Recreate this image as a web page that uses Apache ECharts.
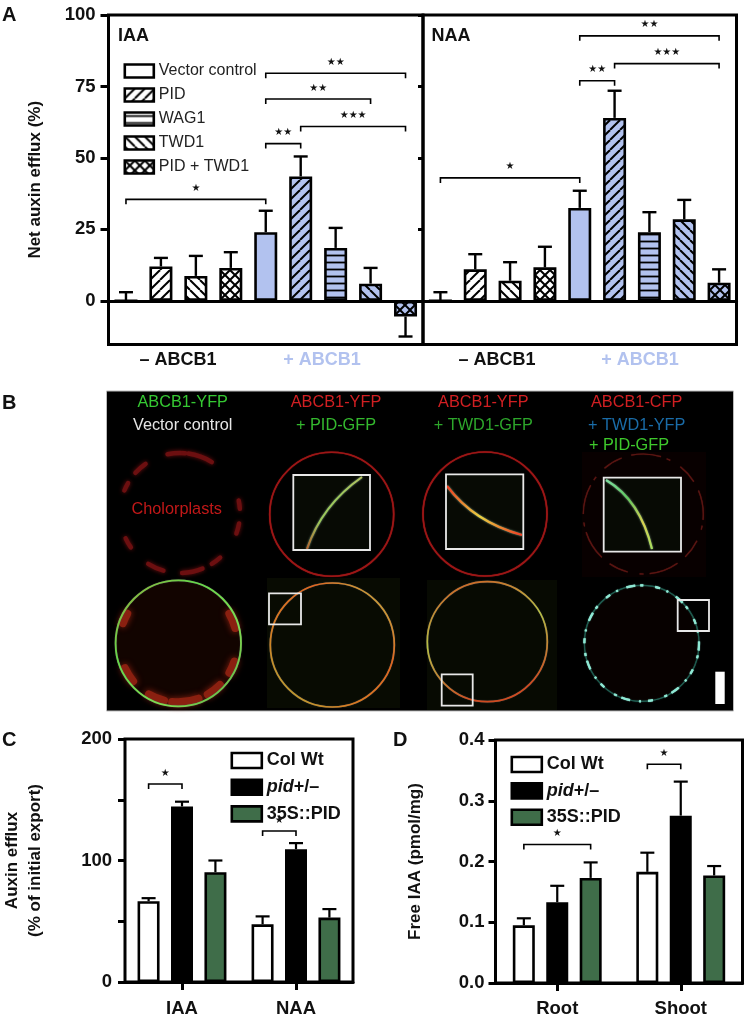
<!DOCTYPE html>
<html><head><meta charset="utf-8">
<style>html,body{margin:0;padding:0;background:#fff}#c{width:745px;height:1019px}</style>
<script src="https://cdn.jsdelivr.net/npm/echarts@6/dist/echarts.min.js"></script>
</head><body><div id="c"></div>
<script>
// ---------- Panel A data ----------
const aCategories = ['- Vector','- PID','- TWD1','- PID + TWD1','+ Vector','+ PID','+ WAG1','+ TWD1','+ PID + TWD1'];
const aTicks = [0,25,50,75,100];
const iaaVector = [0,null,null,null,24,null,null,null,null];
const iaaPid    = [null,12,null,null,null,43.5,null,null,null];
const iaaWag    = [null,null,null,null,null,null,18.5,null,null];
const iaaTwd    = [null,null,8.7,null,null,null,null,6,null];
const iaaBoth   = [null,null,null,11.5,null,null,null,null,-5.5];
const iaaError  = [3,15,15.7,17,31.5,50.5,25.5,11.5,-12.5];
const naaVector = [0,null,null,null,32.5,null,null,null,null];
const naaPid    = [null,11,null,null,null,64,null,null,null];
const naaWag    = [null,null,null,null,null,null,24,null,null];
const naaTwd    = [null,null,7,null,null,null,null,28.5,null];
const naaBoth   = [null,null,null,11.7,null,null,null,null,6.3];
const naaError  = [3,16.3,13.5,18.9,38.5,73.5,31,35.3,11];
// brackets: from category, to category, height, number of stars
const iaaBrackets = [[0,4,35.5,1],[4,8,79.6,2],[4,7,70.6,2],[5,8,61,3],[4,5,55,2]];
const naaBrackets = [[0,4,43,1],[4,8,92.7,2],[5,8,83,3],[4,5,77,2]];
const aLegend = ['Vector control','PID','WAG1','TWD1','PID + TWD1'];
// ---------- Panel C data ----------
const cCategories = ['IAA','NAA'];
const cTicks = [0,50,100,150,200];
const cLabels = [0,100,200];
const cCol = [66.5,47.5];   const cColErr = [69,54];
const cPid = [144.5,109.3]; const cPidErr = [148.4,114.3];
const c35S = [90.4,53];     const c35SErr = [100,60];
const cBrackets = [[0,-1,0,163,1],[1,-1,0,124.3,1]];
// ---------- Panel D data ----------
const dCategories = ['Root','Shoot'];
const dTicks = [0,0.1,0.2,0.3,0.4];
const dCol = [0.095,0.183];  const dColErr = [0.1065,0.2145];
const dPid = [0.133,0.2755]; const dPidErr = [0.16,0.3315];
const d35S = [0.173,0.177];  const d35SErr = [0.1985,0.1925];
const dBrackets = [[0,-1,1,0.228,1],[1,-1,0,0.36,1]];
const wtLegend = ['Col Wt','pid+/–','35S::PID'];

// ---------- styles ----------
const FONT = '"Liberation Sans", Arial, sans-serif';
const BLUE = '#b2c2ef', GREEN = '#3f6d49';
function hatch(kind, bg){
  const s = kind==='h' ? 7 : (kind==='x' ? 10 : 10);
  const c = document.createElement('canvas'); c.width = s; c.height = s;
  const g = c.getContext('2d');
  g.fillStyle = bg; g.fillRect(0,0,s,s);
  g.strokeStyle = '#000'; g.lineWidth = kind==='h' ? 1.8 : 2;
  const fwd = ()=>{ for(const o of [-s,0,s]){ g.beginPath(); g.moveTo(o,s); g.lineTo(o+s,0); g.stroke(); } };
  const back = ()=>{ for(const o of [-s,0,s]){ g.beginPath(); g.moveTo(o,0); g.lineTo(o+s,s); g.stroke(); } };
  if(kind==='/') fwd();
  if(kind==='\\') back();
  if(kind==='x'){ fwd(); back(); }
  if(kind==='h'){ g.beginPath(); g.moveTo(0,3.5); g.lineTo(s,3.5); g.stroke(); }
  return {image:c, repeat:'repeat'};
}
const KINDS = [null,'/','h','\\','x'];
function fill(i,bg){ return KINDS[i] ? hatch(KINDS[i],bg) : bg; }

function errRender(half){ return function(p,api){
  const base = api.value(1), top = api.value(2);
  const a = api.coord([api.value(0),base]), b = api.coord([api.value(0),top]);
  const x = a[0];
  return {type:'group',children:[
    {type:'line',shape:{x1:x,y1:a[1],x2:x,y2:b[1]},style:{stroke:'#000',lineWidth:2.4}},
    {type:'line',shape:{x1:x-half,y1:b[1],x2:x+half,y2:b[1]},style:{stroke:'#000',lineWidth:2.4}}
  ]};
};}
function bracketShape(x0,x1,y,n){
  return {type:'group',children:[
    {type:'polyline',shape:{points:[[x0,y+5],[x0,y],[x1,y],[x1,y+5]]},style:{stroke:'#000',lineWidth:1.6,fill:null}},
    {type:'text',style:{text:'★'.repeat(n),x:(x0+x1)/2,y:y-11,textAlign:'center',textVerticalAlign:'middle',fill:'#111',font:'10px "DejaVu Sans"'}}
  ]};
}
function aBracket(p,api){
  const a = api.coord([api.value(0),api.value(2)]), b = api.coord([api.value(1),api.value(2)]);
  return bracketShape(a[0],b[0],a[1],api.value(3));
}
const STEP = 33.4;
function gBracket(p,api){
  const a = api.coord([api.value(0),api.value(3)]);
  return bracketShape(a[0]+api.value(1)*STEP,a[0]+api.value(2)*STEP,a[1],api.value(4));
}
function gErr(p,api){
  const a = api.coord([api.value(0),api.value(2)]), b = api.coord([api.value(0),api.value(3)]);
  const x = a[0]+api.value(1)*STEP;
  return {type:'group',children:[
    {type:'line',shape:{x1:x,y1:a[1],x2:x,y2:b[1]},style:{stroke:'#000',lineWidth:2.2}},
    {type:'line',shape:{x1:x-7,y1:b[1],x2:x+7,y2:b[1]},style:{stroke:'#000',lineWidth:2.2}}
  ]};
}

// ---------- Panel A series ----------
function aBars(arrays, gridIdx, stack){
  return arrays.map((arr,k)=>({
    type:'bar', name:aLegend[k], xAxisIndex:gridIdx, yAxisIndex:gridIdx, stack:stack, barWidth:23,
    itemStyle:{color:fill(k,'#fff'),borderColor:'#000',borderWidth:2.6},
    data:arr.map((v,i)=> v==null ? null : (i>=4 ? {value:v,itemStyle:{color:fill(k,BLUE)}} : v)),
    emphasis:{disabled:true}
  }));
}
function aErrors(arrays, err, gridIdx){
  const bar = err.map((_,i)=>{ for(const a of arrays){ if(a[i]!=null) return a[i]; } return 0; });
  return {type:'custom',xAxisIndex:gridIdx,yAxisIndex:gridIdx,z:1,renderItem:errRender(7),encode:{x:0,y:2},
    data:err.map((e,i)=>[i,bar[i],e])};
}
function brackets(data,gridIdx,fn){
  return {type:'custom',xAxisIndex:gridIdx,yAxisIndex:gridIdx,z:4,clip:false,renderItem:fn,data:data,silent:true,
    encode:{x:0}};
}
function gBars(names,vals,errs,gridIdx){
  const fills = ['#fff','#000',GREEN];
  const out = names.map((n,k)=>({
    type:'bar',name:n,xAxisIndex:gridIdx,yAxisIndex:gridIdx,barWidth:22,barGap:'52%',
    itemStyle:{color:fills[k],borderColor:'#000',borderWidth:2.6},data:vals[k],emphasis:{disabled:true}
  }));
  const ed = [];
  errs.forEach((e,k)=>e.forEach((v,i)=>ed.push([i,k-1,vals[k][i],v])));
  out.unshift({type:'custom',xAxisIndex:gridIdx,yAxisIndex:gridIdx,z:1,renderItem:gErr,data:ed,encode:{x:0}});
  return out;
}
const numLabel = {fontFamily:FONT,fontWeight:'bold',fontSize:18.5,color:'#111'};
const nameText = {fontFamily:FONT,fontWeight:'bold',fontSize:17,color:'#111'};
const thickTick = (len)=>({show:true,length:len,lineStyle:{width:3,color:'#000'}});
const frame = {show:true,borderColor:'#000',borderWidth:3,backgroundColor:'transparent'};

// ---------- Panel B (micrographs) ----------
function text(t,x,y,color,size,weight,align){
  return {type:'text',silent:true,z:30,x:x,y:y,style:{text:t,fill:color,textAlign:align||'center',textVerticalAlign:'middle',
    font:(weight||'normal')+' '+size+'px '+FONT}};
}
function grad(stops,x,y,x2,y2){
  return {type:'linear',x:x,y:y,x2:x2,y2:y2,colorStops:stops.map((c,i)=>({offset:i/(stops.length-1),color:c}))};
}
function ring(cx,cy,rx,ry,stroke,w,dash,blur){
  return {type:'ellipse',silent:true,z:12,shape:{cx:cx,cy:cy,rx:rx,ry:ry},
    style:{fill:null,stroke:stroke,lineWidth:w,lineDash:dash||null,shadowBlur:blur||1,shadowColor:typeof stroke==='string'?stroke:'#555'}};
}
function box(x,y,w,h){
  return {type:'rect',silent:true,z:16,shape:{x:x,y:y,width:w,height:h},style:{fill:null,stroke:'#e8e8e8',lineWidth:1.8}};
}
function inset(x,y,w,h){
  return {type:'rect',silent:true,z:14,shape:{x:x,y:y,width:w,height:h},style:{fill:'#070a04'}};
}
function curve(x1,y1,cx,cy,x2,y2,stroke,w){
  return {type:'bezierCurve',silent:true,z:15,shape:{x1:x1,y1:y1,cpx1:cx,cpy1:cy,x2:x2,y2:y2},
    style:{fill:null,stroke:stroke,lineWidth:w,shadowBlur:2,shadowColor:'#8a8'}};
}
function patch(cx,cy,r,a0,a1,color,w,blur){
  const d = Math.PI/180;
  return {type:'arc',silent:true,z:12,shape:{cx:cx,cy:cy,r:r,startAngle:a0*d,endAngle:a1*d,clockwise:true},
    style:{fill:null,stroke:color,lineWidth:w,lineCap:'round',shadowBlur:blur||3,shadowColor:color}};
}
const chloroTop = [[-102,-85],[-82,-58],[-138,-125],[-158,-150],[-12,-4],[10,20],[145,155],[106,122],[68,88],[48,58]];
const chloroLow = [[-30,-15],[-160,-150],[18,30],[140,155],[104,120],[70,96],[45,60]];
const B = [
  {type:'rect',silent:true,z:10,shape:{x:106.5,y:391,width:627,height:320},style:{fill:'#000',stroke:'#bbb',lineWidth:1}},
  {type:'rect',silent:true,z:11,shape:{x:267,y:578,width:133,height:130},style:{fill:'#080b02'}},
  {type:'rect',silent:true,z:11,shape:{x:427,y:580,width:130,height:130},style:{fill:'#070a02'}},
  {type:'ellipse',silent:true,z:11,shape:{cx:178.3,cy:643.3,rx:62,ry:62},style:{fill:'#120400'}},
  {type:'ellipse',silent:true,z:11,shape:{cx:641.7,cy:643.3,rx:57,ry:58},style:{fill:'#070100'}},
  {type:'rect',silent:true,z:11,shape:{x:582,y:452,width:124,height:125},style:{fill:'#080000'}},
  // top row
  ...chloroTop.map(a=>patch(180,513,60,a[0],a[1],'#6c0f10',4.5,4)),
  ring(331.7,514.3,62,62,'#9c1616',1.6),
  ring(485,514,62,62,'#9c1616',1.6),
  ring(643.3,514,60,60,'#5a1512',1.2,[30,6,4,12,20,10]),
  // bottom row
  ...chloroLow.map(a=>patch(178.3,643.3,59,a[0],a[1],'#8a2010',8,6)),
  ring(178.3,643.3,62.7,63,grad(['#9aa83a','#66d84a','#7fdc50','#5fb045'],0,0,1,1),1.8),
  ring(332.3,645,62,62,grad(['#b7c44a','#e0661f','#d87a20','#a9b03a'],1,0,0,1),1.7),
  ring(487.3,641.7,60,60,grad(['#d2501e','#b6c045','#cf4a1f'],0,0,.3,1),1.7),
  ring(641.7,643.3,57.3,58,'#1f5a4e',1.2),
  ring(641.7,643.3,57.3,58,'#8fe8d4',2.2,[5,7,2,9,9,5,3,12]),
  // insets
  inset(293.3,475,76.7,75), inset(446,474.3,77.3,74.7), inset(603.7,477.7,77.3,74),
  curve(307,549,322,505,362,477,grad(['#b8542a','#9cc85a','#9cc85a','#b5c060'],0,1,1,0),2),
  curve(447,486,474,522,522,535,grad(['#f03020','#e8d040','#f03020'],0,0,1,1),2.2),
  curve(606,480,640,500,652,549,grad(['#7fe0a8','#60c860','#d8d050','#a0e060'],0,0,1,1),2.2),
  box(293.3,475,76.7,75), box(446,474.3,77.3,74.7), box(603.7,477.7,77.3,74),
  box(269,593.3,32,31), box(441.7,674.3,31,31.4), box(677.7,600,31.3,31),
  {type:'rect',silent:true,z:16,shape:{x:715.3,y:671.7,width:9.4,height:32.3},style:{fill:'#fff'}},
  text('ABCB1-YFP',182.7,402.7,'#35c832',16.3),
  text('Vector control',182.7,425.7,'#e6e6e6',16.3),
  text('ABCB1-YFP',336,402.7,'#d11f22',16.3),
  text('+ PID-GFP',336,425.7,'#34b92e',16.3),
  text('ABCB1-YFP',483.3,402.7,'#d11f22',16.3),
  text('+ TWD1-GFP',483.3,425.7,'#2da62b',16.3),
  text('ABCB1-CFP',636.7,402.7,'#d11f22',16.3),
  text('+ TWD1-YFP',636.7,425.7,'#1a6ca8',16.3),
  text('+ PID-GFP',629,446,'#3ec92c',16.3),
  text('Cholorplasts',176.7,510,'#c21818',16.3),
];
const labels = [
  text('A',2,15,'#111',20,'bold','left'), text('B',2,403,'#111',20,'bold','left'),
  text('C',2,740,'#111',20,'bold','left'), text('D',393,740,'#111',20,'bold','left'),
  text('IAA',118,36,'#111',18,'bold','left'), text('NAA',431.5,36,'#111',18,'bold','left'),
  text('– ABCB1',178,360.5,'#111',18,'bold'), text('+ ABCB1',322,360.5,BLUE,18,'bold'),
  text('– ABCB1',497,360.5,'#111',18,'bold'), text('+ ABCB1',640,360.5,BLUE,18,'bold'),
];

// ---------- Option ----------
const iaaAll = [iaaVector,iaaPid,iaaWag,iaaTwd,iaaBoth];
const naaAll = [naaVector,naaPid,naaWag,naaTwd,naaBoth];
const legendBase = {orient:'vertical',selectedMode:false,icon:'rect',
  itemStyle:{borderWidth:2.6,borderColor:'#000'},inactiveColor:'#000'};
const wtText = {fontFamily:FONT,fontWeight:'bold',fontSize:18,color:'#111',lineHeight:16,
  rich:{i:{fontFamily:FONT,fontWeight:'bold',fontStyle:'italic',fontSize:18,color:'#111',lineHeight:16}}};
const wtFormat = n=> n==='pid+/–' ? '{i|pid}+/–' : n;

const option = {
  animation:false,
  backgroundColor:'#fff',
  textStyle:{fontFamily:FONT},
  grid:[
    Object.assign({left:108.5,top:15,width:314.5,height:329.5},frame),
    Object.assign({left:423,top:15,width:313.5,height:329.5},frame),
    Object.assign({left:108,top:739,width:245,height:243},frame),
    Object.assign({left:495.5,top:740,width:247,height:243},frame)
  ],
  xAxis:[
    {gridIndex:0,type:'category',data:aCategories,axisLine:{onZero:true,lineStyle:{width:3,color:'#000'}},axisTick:{show:false},axisLabel:{show:false}},
    {gridIndex:1,type:'category',data:aCategories,axisLine:{onZero:true,lineStyle:{width:3,color:'#000'}},axisTick:{show:false},axisLabel:{show:false}},
    {gridIndex:2,type:'category',data:cCategories,axisLine:{lineStyle:{width:3,color:'#000'}},axisTick:Object.assign(thickTick(8),{alignWithLabel:true}),axisLabel:Object.assign({},numLabel,{margin:17})},
    {gridIndex:3,type:'category',data:dCategories,axisLine:{lineStyle:{width:3,color:'#000'}},axisTick:Object.assign(thickTick(8),{alignWithLabel:true}),axisLabel:Object.assign({},numLabel,{margin:16})}
  ],
  yAxis:[
    {gridIndex:0,type:'value',min:-15.3,max:100,splitLine:{show:false},axisLine:{show:false},
      axisTick:Object.assign(thickTick(8),{customValues:aTicks}),
      axisLabel:Object.assign({},numLabel,{customValues:aTicks,margin:13}),
      name:'Net auxin efflux (%)',nameLocation:'middle',nameGap:65,nameTextStyle:nameText},
    {gridIndex:1,type:'value',min:-15.3,max:100,splitLine:{show:false},axisLine:{show:false},
      axisTick:Object.assign(thickTick(5),{customValues:aTicks}),axisLabel:{show:false}},
    {gridIndex:2,type:'value',min:0,max:200,splitLine:{show:false},axisLine:{show:false},
      axisTick:Object.assign(thickTick(7),{customValues:cTicks}),
      axisLabel:Object.assign({},numLabel,{customValues:cLabels,margin:13}),
      name:'Auxin efflux\n(% of initial export)',nameLocation:'middle',nameGap:78,nameTextStyle:Object.assign({},nameText,{lineHeight:23})},
    {gridIndex:3,type:'value',min:0,max:0.4,splitLine:{show:false},axisLine:{show:false},
      axisTick:Object.assign(thickTick(7),{customValues:dTicks}),
      axisLabel:Object.assign({},numLabel,{customValues:dTicks,margin:11,formatter:v=>v.toFixed(1)}),
      name:'Free IAA (pmol/mg)',nameLocation:'middle',nameGap:72,nameTextStyle:nameText}
  ],
  legend:[
    Object.assign({},legendBase,{data:aLegend,left:118.5,top:58,itemWidth:29,itemHeight:13,itemGap:8,itemTextGap:9,
      textStyle:{fontFamily:FONT,fontSize:16,color:'#222',lineHeight:13}}),
    Object.assign({},legendBase,{data:wtLegend,left:225.5,top:746.5,itemWidth:30,itemHeight:15,itemGap:8.7,itemTextGap:9,textStyle:wtText,formatter:wtFormat}),
    Object.assign({},legendBase,{data:wtLegend,left:505.5,top:750.5,itemWidth:30,itemHeight:15,itemGap:8.4,itemTextGap:9,textStyle:wtText,formatter:wtFormat})
  ],
  series:[
    aErrors(iaaAll,iaaError,0), ...aBars(iaaAll,0,'iaa'), brackets(iaaBrackets,0,aBracket),
    aErrors(naaAll,naaError,1), ...aBars(naaAll,1,'naa'), brackets(naaBrackets,1,aBracket),
    ...gBars(wtLegend,[cCol,cPid,c35S],[cColErr,cPidErr,c35SErr],2), brackets(cBrackets,2,gBracket),
    ...gBars(wtLegend,[dCol,dPid,d35S],[dColErr,dPidErr,d35SErr],3), brackets(dBrackets,3,gBracket)
  ],
  graphic:{elements:[...B,...labels]}
};
const chart = echarts.init(document.getElementById('c'),null,{renderer:'canvas'});
chart.setOption(option);
</script></body></html>
